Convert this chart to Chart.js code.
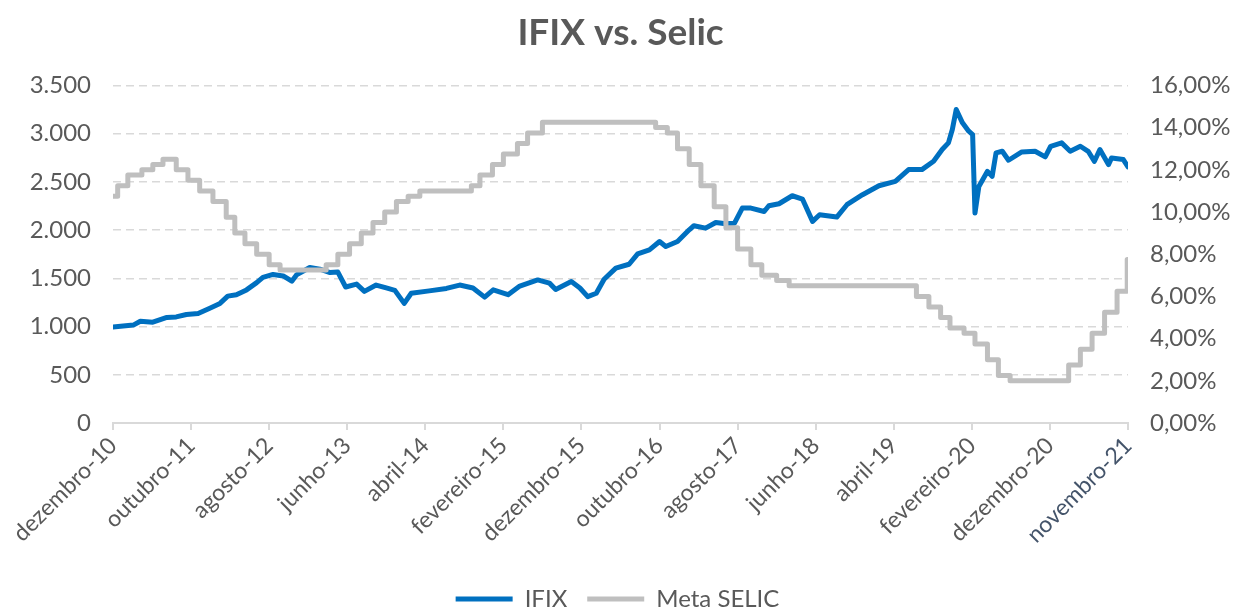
<!DOCTYPE html>
<html>
<head>
<meta charset="utf-8">
<script src="https://cdn.jsdelivr.net/npm/chart.js@4/dist/chart.umd.min.js"></script>
<style>
  body { margin: 0; background: #fff; }
  #wrap { width: 1235px; height: 609px; }
</style>
</head>
<body>
<div id="wrap"><canvas id="chart" width="1235" height="609"></canvas></div>
<script>
// months counted from dezembro-10
const xLabels = ['dezembro-10', 'outubro-11', 'agosto-12', 'junho-13', 'abril-14', 'fevereiro-15',
  'dezembro-15', 'outubro-16', 'agosto-17', 'junho-18', 'abril-19', 'fevereiro-20', 'dezembro-20', 'novembro-21'];

const ifixMonths = [0, 1.3, 2.6, 3.5, 5.1, 6.9, 8.1, 9.4, 10.9, 12.4, 13.7, 14.7, 15.8, 17.1, 18.4, 19.2,
  20.5, 21.8, 22.9, 23.5, 25.2, 26.5, 27.8, 28.8, 29.8, 31.2, 32.2, 33.7, 35, 36.1, 37.3, 38.2,
  40.5, 42.7, 44.4, 46.1, 47.6, 48.7, 50.6, 52.1, 54.4, 55.9, 56.7, 58.7, 59.8, 60.8, 61.9,
  62.9, 64.4, 66.1, 67.2, 68.7, 70, 70.8, 72.3, 73.8, 74.4, 75.9, 77.2, 78.5, 79.6, 80.6,
  81.7, 83.4, 84, 85.3, 87, 88.3, 89.6, 90.5, 92.7, 94, 96, 98.1, 100.2, 101.9, 103.6,
  105.1, 106.2, 107, 107.5, 108, 108.8, 109.6, 110.1, 110.4, 110.9, 112, 112.6, 113.1,
  113.9, 114.7, 116.4, 118.1, 119.4, 120.1, 121.5, 122.6, 123.9, 124.9, 125.7, 126.4,
  127.5, 127.9, 129.4, 130];
const ifixValues = [995, 1005, 1015, 1055, 1045, 1095, 1100, 1125, 1135, 1190, 1240, 1315, 1330, 1380, 1455, 1510,
  1540, 1525, 1470, 1535, 1612, 1595, 1560, 1565, 1410, 1440, 1365, 1430, 1400, 1375, 1240, 1345,
  1370, 1395, 1430, 1400, 1305, 1380, 1330, 1420, 1483, 1450, 1385, 1466, 1400, 1310, 1345,
  1490, 1605, 1646, 1754, 1795, 1882, 1830, 1882, 2003, 2045, 2020, 2079, 2065, 2072, 2228,
  2228, 2193, 2252, 2273, 2356, 2322, 2090, 2159, 2135, 2263, 2367, 2460, 2505, 2627, 2627,
  2713, 2835, 2904, 3043, 3250, 3112, 3025, 2990, 2176, 2453, 2609, 2557, 2800,
  2817, 2724, 2810, 2817, 2759, 2869, 2904, 2817, 2869, 2817, 2713, 2835,
  2679, 2748, 2731, 2655];

// Meta SELIC (% a.a.), value from each month onward
const selicMonths = [0, 0.6, 1.9, 3.7, 5.1, 6.4, 8.1, 9.6, 11.1, 12.8, 14.5, 15.6, 16.9, 18.4, 20, 21.4,
  27.3, 28.8, 30.3, 31.8, 33.3, 34.8, 36.3, 37.8, 39.3, 45.9, 47, 48.6, 50, 51.8, 53.1, 55,
  69.5, 71, 72.3, 73.8, 75.3, 77, 78.5, 80, 81.7, 83.1, 85, 86.6, 102.9, 104.5, 106, 107.2,
  109, 110.4, 112, 113.4, 114.9, 122.4, 123.9, 125.4, 127, 128.6, 129.9, 130];
const selicValues = [10.75, 11.25, 11.75, 12, 12.25, 12.5, 12, 11.5, 11, 10.5, 9.75, 9, 8.5, 8, 7.5, 7.25,
  7.5, 8, 8.5, 9, 9.5, 10, 10.5, 10.75, 11, 11.25, 11.75, 12.25, 12.75, 13.25, 13.75, 14.25,
  14, 13.75, 13, 12.25, 11.25, 10.25, 9.25, 8.25, 7.5, 7, 6.75, 6.5, 6, 5.5, 5, 4.5,
  4.25, 3.75, 3, 2.25, 2, 2.75, 3.5, 4.25, 5.25, 6.25, 7.75, 7.75];

const textColor = '#595959';
const gridColor = '#d9d9d9';
const fontFamily = 'Lato, "Open Sans", sans-serif';

const ifixPoints = ifixMonths.map((m, i) => ({ x: m, y: ifixValues[i] }));
const selicPoints = selicMonths.map((m, i) => ({ x: m, y: selicValues[i] }));

function thousands(v) {
  return String(v).replace(/\B(?=(\d{3})+(?!\d))/g, '.');
}

const ctx = document.getElementById('chart').getContext('2d');
new Chart(ctx, {
  type: 'line',
  data: {
    datasets: [
      {
        label: 'IFIX',
        data: ifixPoints,
        yAxisID: 'y',
        borderColor: '#0070C0',
        backgroundColor: '#0070C0',
        borderWidth: 5,
        pointRadius: 0,
        borderJoinStyle: 'round',
        borderCapStyle: 'round',
        order: 1
      },
      {
        label: 'Meta SELIC',
        data: selicPoints,
        yAxisID: 'y1',
        // hold previous value, then jump at the change date
        stepped: 'before',
        borderColor: '#BFBFBF',
        backgroundColor: '#BFBFBF',
        borderWidth: 5,
        pointRadius: 0,
        borderJoinStyle: 'round',
        borderCapStyle: 'round',
        order: 0
      }
    ]
  },
  options: {
    responsive: false,
    animation: false,
    layout: { padding: { left: 0, right: 0, top: 0, bottom: -12 } },
    plugins: {
      tooltip: { enabled: false },
      title: {
        display: true,
        fullSize: false,
        text: 'IFIX vs. Selic',
        color: textColor,
        font: { family: fontFamily, size: 37, weight: 'bold' },
        padding: { top: 11, bottom: 30 }
      },
      legend: {
        position: 'bottom',
        labels: {
          usePointStyle: true,
          pointStyle: 'line',
          pointStyleWidth: 57,
          color: textColor,
          font: { family: fontFamily, size: 24 },
          padding: 20,
          sort: (a, b) => a.datasetIndex - b.datasetIndex
        }
      }
    },
    scales: {
      x: {
        type: 'linear',
        min: 0,
        max: 130,
        afterFit: (scale) => { scale.height = 144; },
        border: { color: gridColor, width: 2 },
        grid: { drawOnChartArea: false, drawTicks: true, tickLength: 7, color: gridColor, lineWidth: 2 },
        ticks: {
          stepSize: 10,
          autoSkip: false,
          minRotation: 45,
          maxRotation: 45,
          padding: 2,
          color: (c) => (c.index === xLabels.length - 1 ? '#44546A' : textColor),
          font: { family: fontFamily, size: 23 },
          callback: (v) => xLabels[Math.round(v / 10)] || ''
        }
      },
      y: {
        position: 'left',
        min: 0,
        max: 3500,
        afterFit: (scale) => { scale.width = 113; },
        border: { display: false, dash: [8, 5] },
        grid: { color: gridColor, lineWidth: 1.5, drawTicks: false },
        ticks: {
          stepSize: 500,
          padding: 22,
          color: textColor,
          font: { family: fontFamily, size: 24 },
          callback: (v) => thousands(v)
        }
      },
      y1: {
        position: 'right',
        min: 0,
        max: 16,
        afterFit: (scale) => { scale.width = 107; },
        border: { display: false },
        grid: { drawOnChartArea: false, drawTicks: false },
        ticks: {
          stepSize: 2,
          padding: 22,
          color: textColor,
          font: { family: fontFamily, size: 24 },
          callback: (v) => v.toFixed(2).replace('.', ',') + '%'
        }
      }
    }
  }
});
</script>
</body>
</html>
